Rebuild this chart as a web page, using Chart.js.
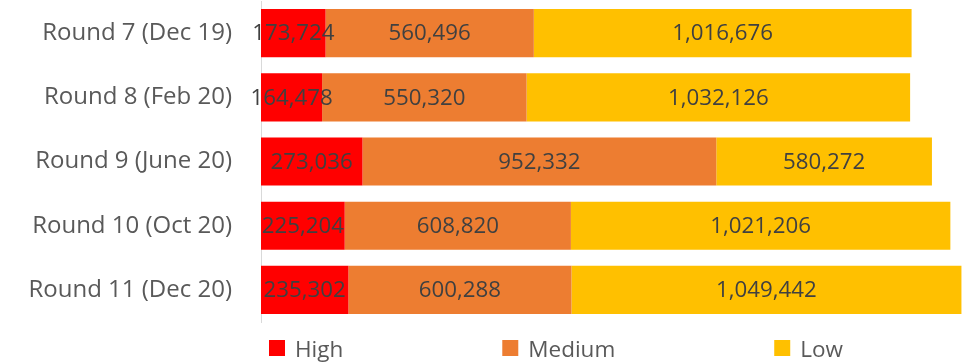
<!DOCTYPE html>
<html>
<head>
<meta charset="utf-8">
<script src="https://cdn.jsdelivr.net/npm/chart.js@4/dist/chart.umd.min.js"></script>
<style>
html,body{margin:0;padding:0;background:#fff;}
#wrap{position:relative;width:967px;height:363px;}
</style>
</head>
<body>
<div id="wrap"><canvas id="c"></canvas></div>
<script>
const categories = ["Round 7 (Dec 19)", "Round 8 (Feb 20)", "Round 9 (June 20)", "Round 10 (Oct 20)", "Round 11 (Dec 20)"];
const seriesNames = ["High", "Medium", "Low"];
const highValues = [173724, 164478, 273036, 225204, 235302];
const mediumValues = [560496, 550320, 952332, 608820, 600288];
const lowValues = [1016676, 1032126, 580272, 1021206, 1049442];
const seriesColors = ["#FF0000", "#ED7D31", "#FFC000"];

const FONT = "'Open Sans', 'Noto Sans', sans-serif";

const dataLabels = {
  id: 'dataLabels',
  afterDatasetsDraw(chart) {
    const ctx = chart.ctx;
    ctx.save();
    ctx.font = "22.3px " + FONT;
    ctx.fillStyle = "#404040";
    ctx.textAlign = "center";
    ctx.textBaseline = "middle";
    chart.data.datasets.forEach((ds, i) => {
      const meta = chart.getDatasetMeta(i);
      meta.data.forEach((bar, j) => {
        const cx = (bar.x + bar.base) / 2;
        ctx.fillText(ds.data[j].toLocaleString('en-US'), cx, bar.y + 1);
      });
    });
    ctx.restore();
  }
};

const bottomLegend = {
  id: 'bottomLegend',
  afterDraw(chart) {
    const ctx = chart.ctx;
    ctx.save();
    ctx.font = "22.5px " + FONT;
    ctx.textBaseline = "alphabetic";
    ctx.textAlign = "left";
    const box = 16, gap = 10, spacing = 159;
    let x = 269;
    const yTop = 340;
    chart.data.datasets.forEach((ds) => {
      ctx.fillStyle = ds.backgroundColor;
      ctx.fillRect(x, yTop, box, box);
      ctx.fillStyle = "#595959";
      ctx.fillText(ds.label, x + box + gap, 357);
      x += box + gap + ctx.measureText(ds.label).width + spacing;
    });
    ctx.restore();
  }
};

new Chart(document.getElementById('c'), {
  type: 'bar',
  data: {
    labels: categories,
    datasets: [
      { label: seriesNames[0], data: highValues, backgroundColor: seriesColors[0] },
      { label: seriesNames[1], data: mediumValues, backgroundColor: seriesColors[1] },
      { label: seriesNames[2], data: lowValues, backgroundColor: seriesColors[2] }
    ]
  },
  options: {
    indexAxis: 'y',
    responsive: true,
    maintainAspectRatio: false,
    animation: false,
    datasets: { bar: { categoryPercentage: 0.75, barPercentage: 1, borderWidth: 0 } },
    layout: { padding: { top: 1, right: 0, bottom: 41, left: 0 } },
    plugins: { legend: { display: false }, tooltip: { enabled: false } },
    scales: {
      x: {
        stacked: true,
        min: 0,
        max: 1900000,
        display: false
      },
      y: {
        stacked: true,
        grid: { display: false },
        border: { display: true, color: '#D9D9D9', width: 1 },
        ticks: { color: '#595959', font: { family: FONT, size: 24 }, padding: 21 },
        afterFit(scale) {
          scale.width = 261;
          scale.paddingTop = 0;
          scale.paddingBottom = 0;
        }
      }
    }
  },
  plugins: [dataLabels, bottomLegend]
});
</script>
</body>
</html>
